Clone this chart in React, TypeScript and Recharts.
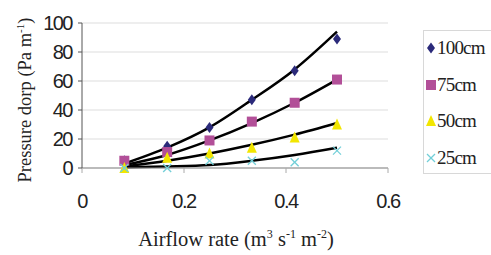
import React from "react";
import { ComposedChart, Scatter, Line, XAxis, YAxis, CartesianGrid, Label } from "recharts";

const xVals = [0.083, 0.167, 0.25, 0.333, 0.417, 0.5];
const p100 = [5, 15, 28, 47, 67, 89];
const p75 = [5, 11, 19, 32, 45, 61];
const p50 = [0, 7, 10, 14, 21, 30];
const p25 = [0, 0, 5, 5, 4, 12];
const t100 = [3, 14, 28, 47, 68, 94];
const t75 = [2, 9, 19, 31, 45, 61];
const t50 = [1, 5, 10, 16, 23, 31];
const t25 = [0.5, 1, 2, 5, 9, 14];
const seriesNames = ["100cm", "75cm", "50cm", "25cm"];
const xTicks = [0, 0.2, 0.4, 0.6];
const yTicks = [0, 20, 40, 60, 80, 100];

const colors = ["#2b2a7a", "#b24f98", "#f2e600", "#72cfd8"];

const toPts = (ys: number[]) => xVals.map((x, i) => ({ x, y: ys[i] }));

const Diamond = (p: any) => (
  <polygon points={`${p.cx},${p.cy - 5.5} ${p.cx + 4},${p.cy} ${p.cx},${p.cy + 5.5} ${p.cx - 4},${p.cy}`} fill={colors[0]} />
);
const Square = (p: any) => <rect x={p.cx - 5} y={p.cy - 5} width={10} height={10} fill={colors[1]} />;
const Tri = (p: any) => (
  <polygon points={`${p.cx},${p.cy - 6} ${p.cx + 5},${p.cy + 5} ${p.cx - 5},${p.cy + 5}`} fill={colors[2]} />
);
const XMark = (p: any) => (
  <g stroke={colors[3]} strokeWidth={1.3}>
    <line x1={p.cx - 4} y1={p.cy - 4} x2={p.cx + 4} y2={p.cy + 4} />
    <line x1={p.cx - 4} y1={p.cy + 4} x2={p.cx + 4} y2={p.cy - 4} />
  </g>
);
const shapes = [Diamond, Square, Tri, XMark];

const LegendBox = () => (
  <div
    style={{
      position: "absolute",
      left: 423,
      top: 30,
      width: 68,
      height: 144,
      border: "1px solid #d8d8d8",
      borderRight: "none",
      background: "#fff",
      boxSizing: "border-box",
      overflow: "hidden",
    }}
  >
    <svg width={68} height={144}>
      {seriesNames.map((n, i) => {
        const cy = [17, 54, 90, 127][i];
        const S = shapes[i];
        return (
          <g key={n}>
            <S cx={7} cy={cy} />
            <text x={13} y={cy + 6} fontFamily="Liberation Serif" fontSize={19} letterSpacing={-0.8} fill="#222">
              {n}
            </text>
          </g>
        );
      })}
    </svg>
  </div>
);

const YLabel = () => (
  <text
    x={31}
    y={100}
    transform="rotate(-90 31 100)"
    textAnchor="middle"
    fontFamily="Liberation Serif"
    fontSize={18.5}
    fill="#222"
  >
    Pressure dorp (Pa m
    <tspan dy={-7} fontSize={11}>-1</tspan>
    <tspan dy={7}>)</tspan>
  </text>
);

const XLabel = () => (
  <text x={236} y={246} textAnchor="middle" fontFamily="Liberation Serif" fontSize={20.5} fill="#222">
    Airflow rate (m
    <tspan dy={-8} fontSize={12}>3</tspan>
    <tspan dy={8}> s</tspan>
    <tspan dy={-8} fontSize={12}>-1</tspan>
    <tspan dy={8}> m</tspan>
    <tspan dy={-8} fontSize={12}>-2</tspan>
    <tspan dy={8}>)</tspan>
  </text>
);

export default function App() {
  const pts = [p100, p75, p50, p25].map(toPts);
  const trends = [t100, t75, t50, t25].map(toPts);
  const tickStyle = { fontFamily: "Liberation Sans", fontSize: 20, fill: "#222", letterSpacing: -1.5 };
  return (
    <div style={{ position: "absolute", left: 0, top: 0, width: 491, height: 255, background: "#fff" }}>
      <ComposedChart width={491} height={255} margin={{ top: 23, right: 103, bottom: 0, left: 0 }}>
        <CartesianGrid vertical={false} stroke="#dddddd" />
        <XAxis
          type="number"
          dataKey="x"
          domain={[0, 0.6]}
          ticks={xTicks}
          height={87}
          axisLine={{ stroke: "#888" }}
          tickLine={{ stroke: "#aaa" }}
          tickSize={5}
          tickMargin={21}
          tick={tickStyle}
          tickFormatter={(v: number) => (v === 0 ? "0" : String(v))}
        >
          <Label content={<XLabel />} />
        </XAxis>
        <YAxis
          type="number"
          dataKey="y"
          domain={[0, 100]}
          ticks={yTicks}
          width={82}
          axisLine={{ stroke: "#555" }}
          tickLine={{ stroke: "#555" }}
          tickSize={4}
          tickMargin={6}
          tick={tickStyle}
        >
          <Label content={<YLabel />} />
        </YAxis>
        {pts.map((d, i) => (
          <Scatter key={"s" + i} name={seriesNames[i]} data={d} dataKey="y" shape={shapes[i]} isAnimationActive={false} />
        ))}
        {trends.map((d, i) => (
          <Line
            key={"l" + i}
            data={d}
            dataKey="y"
            type="monotone"
            stroke="#000"
            strokeWidth={2.5}
            dot={false}
            activeDot={false}
            legendType="none"
            isAnimationActive={false}
          />
        ))}
      </ComposedChart>
      <LegendBox />
    </div>
  );
}
